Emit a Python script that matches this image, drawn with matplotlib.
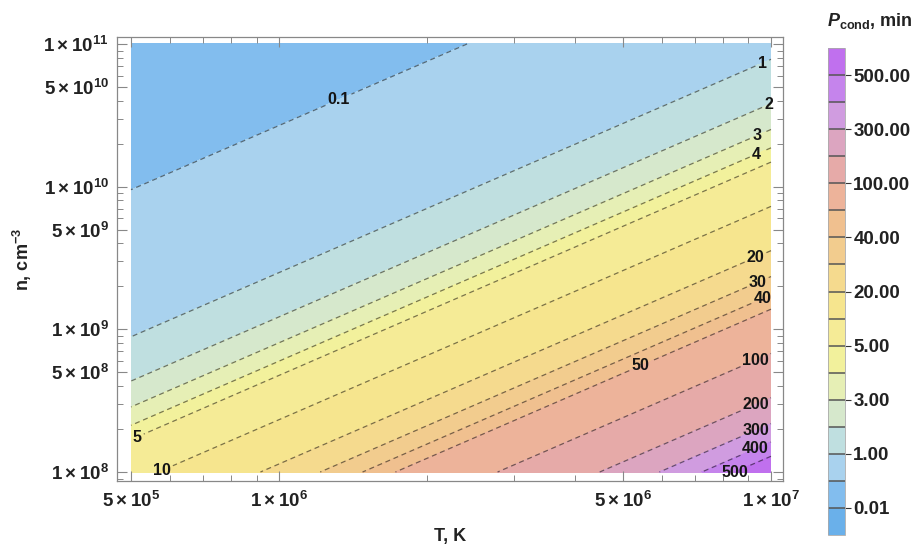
import numpy as np
import matplotlib
matplotlib.use("Agg")
import matplotlib.pyplot as plt
from matplotlib.colors import ListedColormap, BoundaryNorm
from matplotlib.cm import ScalarMappable
from matplotlib.ticker import LogLocator, NullFormatter

plt.rcParams['font.family'] = ['Liberation Sans', 'DejaVu Sans']
plt.rcParams['mathtext.fontset'] = 'custom'
plt.rcParams['mathtext.rm'] = 'Liberation Sans:bold'
plt.rcParams['mathtext.bf'] = 'Liberation Sans:bold'
plt.rcParams['mathtext.it'] = 'Liberation Sans:bold:italic'

# contour levels of P_cond, minutes
levels = [0.01, 0.1, 1, 2, 3, 4, 5, 10, 20, 30, 40, 50, 100, 200, 300, 400, 500]
# one colour per band (below 0.01 ... above 500)
band_colors = ['#6ab0ea', '#82bdee', '#a9d2ee', '#bfdfe0', '#d6e8cc', '#e6efb5',
               '#f2f19c', '#f5eb96', '#f6e58e', '#f5da8e', '#f2cc8e', '#f0c08f',
               '#edb39a', '#e6aaa8', '#dca5c0', '#d09ce0', '#c584ec', '#c070ee']
cbar_labels = levels[::2]

T_range = [5e5, 1e7]
n_range = [1e8, 1e11]
x_ticks = [5e5, 1e6, 5e6, 1e7]
x_labels = [r'$5\times10^{5}$', r'$1\times10^{6}$', r'$5\times10^{6}$', r'$1\times10^{7}$']
y_ticks = [1e8, 5e8, 1e9, 5e9, 1e10, 5e10, 1e11]
y_labels = [r'$1\times10^{8}$', r'$5\times10^{8}$', r'$1\times10^{9}$', r'$5\times10^{9}$',
            r'$1\times10^{10}$', r'$5\times10^{10}$', r'$1\times10^{11}$']

# power law:
# P = 1 min at T = 5e5 K, n = 8.87e8 cm^-3 ; P ~ T^1.45 / n^0.97
T_ref, n_ref = 5e5, 8.87e8
t_exp, n_exp = 1.45, 0.97

# temperature where each contour label sits
label_T = {0.1: 1.32e6, 1: 9.6e6, 2: 9.9e6, 3: 9.35e6, 4: 9.35e6, 5: 5.14e5,
           10: 5.78e5, 20: 9.3e6, 30: 9.4e6, 40: 9.6e6, 50: 5.42e6, 100: 9.3e6,
           200: 9.3e6, 300: 9.3e6, 400: 9.3e6, 500: 8.3e6}


def p_cond(T, n):
    return (T / T_ref) ** t_exp * (n_ref / n) ** n_exp


def n_on_level(P, T):
    return n_ref * (T / T_ref) ** (t_exp / n_exp) * P ** (-1.0 / n_exp)


T = np.logspace(np.log10(T_range[0]), np.log10(T_range[1]), 400)
n = np.logspace(np.log10(n_range[0]), np.log10(n_range[1]), 400)
TT, NN = np.meshgrid(T, n)
P = p_cond(TT, NN)

bounds = [levels[0] / 10] + levels + [levels[-1] * 3]

fig = plt.figure(figsize=(9.21, 5.48), dpi=100)
ax = fig.add_axes([117 / 921, 1 - 481 / 548, 666 / 921, 444 / 548])
ax.contourf(TT, NN, P, levels=bounds, colors=band_colors)
# the 0.01 level lies outside the plotted range, so only the rest get lines
line_levels = [lv for lv in levels if lv > P.min()]
cs = ax.contour(TT, NN, P, levels=line_levels, colors=[(0, 0, 0, 0.5)],
                linewidths=0.9, linestyles=[(0, (4, 3))])

ax.set_xscale('log')
ax.set_yscale('log')
ax.set_xlim(T_range[0] / 10 ** 0.0285, T_range[1] * 10 ** 0.0244)
ax.set_ylim(n_range[0] / 10 ** 0.063, n_range[1] * 10 ** 0.049)

manual = [(label_T[lv], n_on_level(lv, label_T[lv])) for lv in line_levels]
texts = ax.clabel(cs, manual=manual, inline=True, inline_spacing=3,
                  fontsize=11.5, colors='#151515', fmt='%g')
for t in texts:
    t.set_rotation(0)
    t.set_fontweight('bold')

ax.set_xticks(x_ticks, labels=x_labels)
ax.set_yticks(y_ticks, labels=y_labels)
ax.xaxis.set_minor_locator(LogLocator(base=10, subs=range(2, 10), numticks=20))
ax.yaxis.set_minor_locator(LogLocator(base=10, subs=range(2, 10), numticks=20))
ax.xaxis.set_minor_formatter(NullFormatter())
ax.yaxis.set_minor_formatter(NullFormatter())
ax.tick_params(which='both', direction='in', top=True, right=True, color='#888888',
               labelsize=13.5, labelcolor='#222222')
ax.tick_params(which='major', length=7, width=0.8)
ax.tick_params(which='minor', length=4, width=0.7)
ax.tick_params(axis='x', pad=7)
ax.tick_params(axis='y', pad=6)
for s in ax.spines.values():
    s.set_color('#888888')
    s.set_linewidth(0.9)

ax.set_xlabel('T, K', fontsize=13, fontweight='bold', color='#222222')
ax.xaxis.set_label_coords(0.5, -0.106)
ax.set_ylabel(r'n, cm$^{-3}$', fontsize=13, fontweight='bold', color='#222222')
ax.yaxis.set_label_coords(-0.125, 0.5)

# legend bar
cax = fig.add_axes([828 / 921, 1 - 535 / 548, 17 / 921, 487 / 548])
cmap = ListedColormap(band_colors)
norm = BoundaryNorm(bounds, cmap.N)
cb = fig.colorbar(ScalarMappable(norm=norm, cmap=cmap), cax=cax, boundaries=bounds,
                  spacing='uniform', ticks=cbar_labels, drawedges=True, format='%.2f')
cb.dividers.set_color('#555555')
cb.dividers.set_linewidth(1.1)
cb.outline.set_edgecolor('#aaaaaa')
cb.outline.set_linewidth(0.6)
cax.tick_params(length=4, width=0.8, color='#333333', labelsize=13.5,
                labelcolor='#222222', pad=2)
for t in cax.get_yticklabels():
    t.set_fontweight('bold')
cax.minorticks_off()

fig.text(870 / 921, 1 - 21 / 548, r'$P_{\mathrm{cond}}$, min', fontsize=13,
         fontweight='bold', color='#222222', ha='center', va='center')

fig.savefig('out.png', dpi=100, facecolor='white')
